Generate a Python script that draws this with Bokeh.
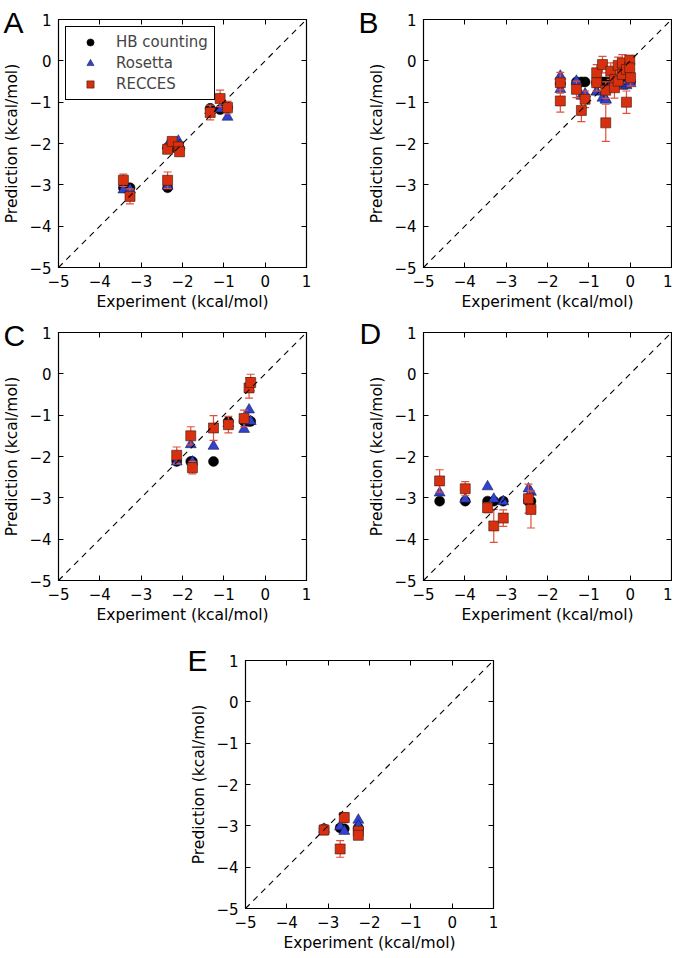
from bokeh.plotting import figure
from bokeh.models import (ColumnDataSource, Slope, Title, LinearAxis, FixedTicker,
                          Legend, LegendItem, Range1d)
from bokeh.layouts import column, row
from bokeh.embed import file_html
from bokeh.resources import INLINE

# ---------------- data ----------------
ticks = [-5, -4, -3, -2, -1, 0, 1]
tick_labels = ["\u22125", "\u22124", "\u22123", "\u22122", "\u22121", "0", "1"]

series_names = ["HB counting", "Rosetta", "RECCES"]
x_label = "Experiment (kcal/mol)"
y_label = "Prediction (kcal/mol)"

# Panel A
exp_A = [-3.43, -3.27, -2.36, -2.36, -2.25, -2.10, -2.07, -1.33, -1.09, -0.91]
hb_A = [-3.07, -3.07, -3.07, -2.10, -2.10, -2.10, -2.12, -1.15, -1.18, -1.13]
ros_A = [-3.12, -3.12, -3.03, -2.05, -2.00, -1.94, -2.05, -1.20, -1.16, -1.36]
rec_A = [-2.89, -3.28, -2.89, -2.14, -1.95, -2.08, -2.20, -1.25, -0.91, -1.13]
err_A = [0.15, 0.18, 0.20, 0.10, 0.10, 0.10, 0.10, 0.18, 0.20, 0.15]

# Panel B
exp_B = [-1.69, -1.69, -1.30, -1.18, -1.09, -0.81, -0.81, -0.67, -0.59, -0.59, -0.47,
         -0.38, -0.38, -0.29, -0.29, -0.19, -0.19, -0.09, -0.09, -0.01, -0.01, 0.01]
hb_B = [-0.55, -0.55, -0.51, -0.51, -0.51, -0.51, -0.55, -0.51, -0.55, -0.51, -0.51,
        -0.51, -0.55, -0.51, -0.51, -0.51, -0.51, -0.51, -0.51, -0.51, -0.51, -0.51]
ros_B = [-0.37, -0.69, -0.49, -0.85, -0.80, -0.75, -0.75, -0.90, -0.93, -0.95, -0.60,
         -0.55, -0.60, -0.55, -0.55, -0.61, -0.60, -0.60, -0.55, -0.50, -0.50, -0.55]
rec_B = [-0.53, -0.97, -0.69, -1.20, -0.93, -0.29, -0.53, -0.09, -1.50, -0.71, -0.25,
         -0.45, -0.65, -0.11, -0.49, -0.05, -0.33, -0.21, -1.00, 0.02, -0.17, -0.41]
err_B = [0.25, 0.27, 0.20, 0.27, 0.20, 0.20, 0.20, 0.20, 0.45, 0.20, 0.20,
         0.20, 0.25, 0.20, 0.20, 0.20, 0.20, 0.20, 0.27, 0.10, 0.15, 0.20]

# Panel C
exp_C = [-2.14, -1.80, -1.76, -1.25, -0.89, -0.51, -0.39, -0.35]
hb_C = [-2.12, -2.12, -2.12, -2.12, -1.15, -1.15, -1.15, -1.15]
ros_C = [-2.13, -1.71, -2.13, -1.75, -1.20, -1.34, -0.87, -1.15]
rec_C = [-1.97, -1.50, -2.27, -1.31, -1.23, -1.08, -0.34, -0.21]
err_C = [0.20, 0.22, 0.15, 0.30, 0.20, 0.20, 0.25, 0.20]

# Panel D
exp_D = [-4.61, -3.99, -3.45, -3.30, -3.07, -2.46, -2.40]
hb_D = [-3.08, -3.08, -3.08, -3.08, -3.08, -3.08, -3.08]
ros_D = [-2.88, -3.03, -2.73, -3.03, -3.09, -2.78, -2.86]
rec_D = [-2.59, -2.78, -3.24, -3.68, -3.49, -3.02, -3.28]
err_D = [0.27, 0.17, 0.12, 0.40, 0.20, 0.35, 0.45]

# Panel E
exp_E = [-3.10, -2.71, -2.61, -2.27, -2.27]
hb_E = [-3.07, -3.05, -3.07, -3.05, -3.10]
ros_E = [-3.08, -3.02, -3.13, -2.86, -3.00]
rec_E = [-3.10, -3.56, -2.80, -3.13, -3.23]
err_E = [0.12, 0.20, 0.12, 0.10, 0.10]

# ---------------- style ----------------
RED = "#d8300e"
BLUE = "#3042d0"
ERR = "#e0503c"
FONT = "DejaVu Sans"


def make_panel(letter, letter_offset, letter_standoff, xs, hb, ros, rec, err,
               bl, bt, bb, br, show_legend=False):
    p = figure(frame_width=248, frame_height=248,
               x_range=Range1d(-5, 1), y_range=Range1d(-5, 1),
               min_border_left=bl, min_border_top=bt, min_border_bottom=bb,
               min_border_right=br, output_backend="svg", toolbar_location=None,
               background_fill_color="white", border_fill_color="white")
    p.xgrid.visible = False
    p.ygrid.visible = False
    p.outline_line_color = "black"
    p.outline_line_alpha = 1.0
    p.outline_line_width = 1.2

    for ax in (p.xaxis[0], p.yaxis[0]):
        ax.ticker = FixedTicker(ticks=ticks)
        ax.major_label_overrides = dict(zip(ticks, tick_labels))
        ax.major_tick_in = 5
        ax.major_tick_out = 0
        ax.major_tick_line_color = "black"
        ax.minor_tick_line_color = None
        ax.axis_line_color = "black"
        ax.major_label_text_font = FONT
        ax.major_label_text_font_size = "15px"
        ax.major_label_text_color = "black"
        ax.axis_label_text_font = FONT
        ax.axis_label_text_font_size = "15.5px"
        ax.axis_label_text_font_style = "normal"
        ax.axis_label_text_color = "black"
        ax.major_label_standoff = 7
        ax.axis_label_standoff = 3
    p.xaxis[0].axis_label = x_label
    p.yaxis[0].axis_label = y_label
    p.yaxis[0].axis_label_standoff = 5

    for side in ("above", "right"):
        a = LinearAxis(ticker=FixedTicker(ticks=ticks), major_tick_in=5, major_tick_out=0,
                       major_tick_line_color="black", minor_tick_line_color=None,
                       axis_line_color=None, major_label_text_color=None,
                       major_label_text_alpha=0, major_label_text_font_size="1px",
                       major_label_standoff=0)
        p.add_layout(a, side)

    # panel letter
    p.add_layout(Title(text=letter, align="left", offset=letter_offset,
                       standoff=letter_standoff, text_font="Liberation Sans",
                       text_font_size="30px", text_font_style="normal",
                       text_color="black", vertical_align="bottom"), "above")

    p.add_layout(Slope(gradient=1, y_intercept=0, line_color="black",
                       line_dash="6 5", line_width=1.1))

    upper = [v + e for v, e in zip(rec, err)]
    lower = [v - e for v, e in zip(rec, err)]
    src = ColumnDataSource(dict(x=xs, hb=hb, ros=ros, rec=rec, up=upper, lo=lower))

    r_hb = p.scatter("x", "hb", source=src, marker="circle", size=10,
                     fill_color="black", line_color="black", line_width=0.5)
    r_ros = p.scatter("x", "ros", source=src, marker="triangle", size=11,
                      fill_color=BLUE, line_color="#111133", line_width=0.5)
    p.segment("x", "lo", "x", "up", source=src, line_color=ERR, line_width=1.2)
    p.scatter("x", "up", source=src, marker="dash", size=8, line_color=ERR, line_width=1.2)
    p.scatter("x", "lo", source=src, marker="dash", size=8, line_color=ERR, line_width=1.2)
    r_rec = p.scatter("x", "rec", source=src, marker="square", size=10,
                      fill_color=RED, line_color="#3a1a10", line_width=0.6)

    if show_legend:
        leg = Legend(items=[LegendItem(label=series_names[0], renderers=[r_hb]),
                            LegendItem(label=series_names[1], renderers=[r_ros]),
                            LegendItem(label=series_names[2], renderers=[r_rec])],
                     location="top_left")
        leg.label_text_font = FONT
        leg.label_text_font_size = "15px"
        leg.border_line_color = "black"
        leg.border_line_width = 1
        leg.border_line_alpha = 1
        leg.background_fill_alpha = 1
        leg.glyph_width = 36
        leg.glyph_height = 18
        leg.label_height = 18
        leg.label_standoff = 8
        leg.spacing = 3
        leg.padding = 6
        leg.margin = 7
        p.add_layout(leg)

    return p


pA = make_panel("A", -55, -38, exp_A, hb_A, ros_A, rec_A, err_A, 49, 19, 40, 34, show_legend=True)
pB = make_panel("B", -65, -38, exp_B, hb_B, ros_B, rec_B, err_B, 83, 19, 40, 1)
pC = make_panel("C", -55, -38, exp_C, hb_C, ros_C, rec_C, err_C, 49, 17, 58, 34)
pD = make_panel("D", -64, -34, exp_D, hb_D, ros_D, rec_D, err_D, 83, 19, 56, 1)
pE = make_panel("E", -58, -33, exp_E, hb_E, ros_E, rec_E, err_E, 245, 24, 40, 10)

layout = column(row(pA, pB), row(pC, pD), row(pE))

open("out.html", "w").write(file_html(layout, INLINE))
